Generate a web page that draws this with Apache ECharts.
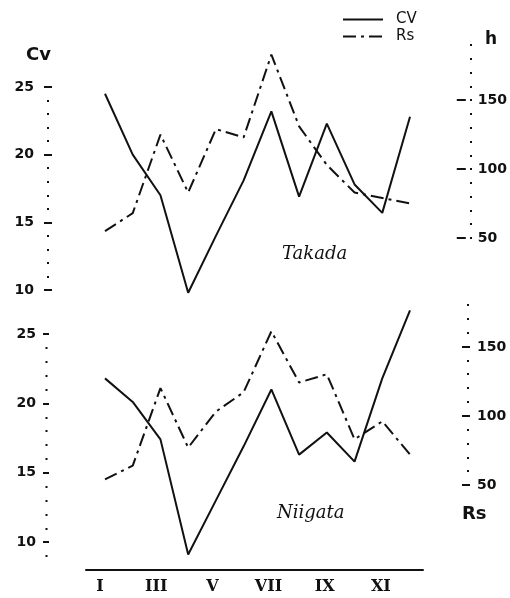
<!DOCTYPE html>
<html>
<head>
<meta charset="utf-8">
<script src="https://cdn.jsdelivr.net/npm/echarts@6/dist/echarts.min.js"></script>
<style>
html,body{margin:0;padding:0;background:#fff;}
#chart{width:510px;height:598px;}
</style>
</head>
<body>
<div id="chart"></div>
<script>
// ---- data ----
var months = ['I','II','III','IV','V','VI','VII','VIII','IX','X','XI','XII'];
var takadaCv = [24.5, 20.0, 17.0, 9.8, 14.0, 18.1, 23.2, 16.9, 22.3, 17.8, 15.7, 22.8];
var takadaRs = [55, 68, 125, 83, 129, 123, 183, 131, 103, 83, 79, 75];
var niigataCv = [21.8, 20.1, 17.4, 9.1, 13.0, 16.9, 21.0, 16.3, 17.9, 15.8, 21.8, 26.7];
var niigataRs = [54, 64, 120, 77, 103, 117, 161, 124, 130, 83, 96, 72];
var cvTicks = [10, 15, 20, 25];
var rsTicks = [50, 100, 150];

var INK = '#111';
var numFont = {fontFamily: 'DejaVu Sans', fontWeight: 'bold', fontSize: 14, color: INK};

var chart = echarts.init(document.getElementById('chart'), null, {renderer: 'canvas'});

var DL = 105, DW = 305;
var grids = [
  {left: DL, width: DW, top: 87, height: 203},   // 0 top CV
  {left: DL, width: DW, top: 45, height: 193},   // 1 top Rs dots (50..190)
  {left: DL, width: DW, top: 100, height: 138},  // 2 top Rs majors (50..150)
  {left: DL, width: DW, top: 334, height: 208},  // 3 bottom CV (10..25)
  {left: DL, width: DW, top: 334, height: 222},  // 4 bottom CV dots (9..25)
  {left: DL, width: DW, top: 305, height: 180},  // 5 bottom Rs dots (50..180)
  {left: DL, width: DW, top: 347, height: 138},  // 6 bottom Rs majors (50..150)
  {left: 86, width: 337, top: 560, height: 10}   // 7 visible month axis
];

function hiddenX(gi) {
  return {type: 'category', gridIndex: gi, data: months, boundaryGap: false, show: false};
}
var xAxes = [];
for (var i = 0; i < 7; i++) xAxes.push(hiddenX(i));
xAxes.push({
  type: 'category', gridIndex: 7, data: months, boundaryGap: true,
  axisLine: {lineStyle: {color: INK, width: 2}},
  axisTick: {alignWithLabel: true, length: 4, lineStyle: {color: INK, width: 2}},
  axisLabel: {interval: 1, margin: 9, fontFamily: 'DejaVu Serif', fontWeight: 'bold', fontSize: 16, color: INK}
});

function majorAxis(gi, pos, offset, min, max, interval, tickLen, margin) {
  return {
    type: 'value', gridIndex: gi, position: pos, offset: offset, min: min, max: max, interval: interval,
    axisLine: {show: false}, splitLine: {show: false},
    axisTick: {show: true, length: tickLen, lineStyle: {color: INK, width: 2}},
    axisLabel: Object.assign({margin: margin}, numFont)
  };
}
function dotAxis(gi, pos, offset, min, max) {
  return {
    type: 'value', gridIndex: gi, position: pos, offset: offset, min: min, max: max, interval: (max > 100 ? 10 : 1),
    axisLine: {show: false}, splitLine: {show: false},
    axisTick: {show: true, length: 2, lineStyle: {color: INK, width: 2}},
    axisLabel: {show: false}
  };
}

var yAxes = [
  majorAxis(0, 'left', DL - 52, 10, 25, 5, 8, 18),       // 0 top CV majors
  dotAxis(0, 'left', DL - 49, 10, 25),                   // 1 top CV dots
  dotAxis(1, 'right', 470 - (DL + DW), 50, 190),         // 2 top Rs dots (series axis)
  majorAxis(2, 'right', 463 - (DL + DW), 50, 150, 50, 9, 21), // 3 top Rs majors
  majorAxis(3, 'left', DL - 49, 10, 25, 5, 6, 13),       // 4 bottom CV majors (series axis)
  dotAxis(4, 'left', DL - 47.5, 9, 25),                  // 5 bottom CV dots
  dotAxis(5, 'right', 467 - (DL + DW), 50, 180),         // 6 bottom Rs dots (series axis)
  majorAxis(6, 'right', 462 - (DL + DW), 50, 150, 50, 8, 15), // 7 bottom Rs majors
  {type: 'value', gridIndex: 7, show: false}
];

var cvStyle = {color: INK, width: 2};
var rsStyle = {color: INK, width: 2, type: [13, 5, 3, 5]};
function line(name, data, xi, yi, style) {
  return {name: name, type: 'line', data: data, xAxisIndex: xi, yAxisIndex: yi,
    symbol: 'none', clip: false, lineStyle: style, itemStyle: {color: INK}, z: 3};
}

var option = {
  animation: false,
  backgroundColor: '#fff',
  grid: grids,
  xAxis: xAxes,
  yAxis: yAxes,
  legend: {
    data: ['CV', 'Rs'], orient: 'vertical', left: 342, top: 12, padding: 0,
    itemWidth: 40, itemHeight: 14, itemGap: 2,
    itemStyle: {opacity: 0},
    textStyle: {fontFamily: 'DejaVu Sans', fontSize: 15, color: INK, padding: [0, 0, 0, 8]}
  },
  graphic: [
    {type: 'text', left: 26, top: 46, style: {text: 'Cv', font: 'bold 18px "DejaVu Sans"', fill: INK}},
    {type: 'text', left: 485, top: 31, style: {text: 'h', font: 'bold 17px "DejaVu Sans"', fill: INK}},
    {type: 'text', left: 282, top: 245, style: {text: 'Takada', font: 'italic 18px "DejaVu Serif"', fill: INK}},
    {type: 'text', left: 277, top: 504, style: {text: 'Niigata', font: 'italic 18px "DejaVu Serif"', fill: INK}},
    {type: 'text', left: 462, top: 505, style: {text: 'Rs', font: 'bold 18px "DejaVu Sans"', fill: INK}}
  ],
  series: [
    line('CV', takadaCv, 0, 0, cvStyle),
    line('Rs', takadaRs, 1, 2, rsStyle),
    line('CV', niigataCv, 3, 4, cvStyle),
    line('Rs', niigataRs, 5, 6, rsStyle)
  ]
};
chart.setOption(option);
</script>
</body>
</html>
